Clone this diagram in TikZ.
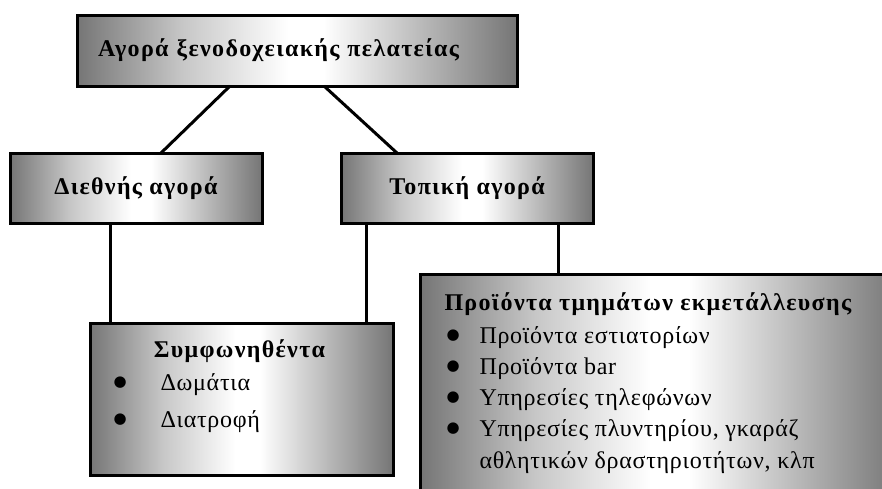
\documentclass[tikz,border=0pt]{standalone}
\usepackage{fontspec}
\setmainfont{Liberation Serif}
\newfontfamily\headfont[LetterSpace=5.5]{Liberation Serif}
\newfontfamily\itemfont[LetterSpace=3]{Liberation Serif}
\newfontfamily\markfont{DejaVu Sans}
\usetikzlibrary{calc,positioning,shadows}

\definecolor{paneldark}{gray}{0.46}
\definecolor{panelmid}{gray}{0.78}
\pgfdeclarehorizontalshading{panelshade}{100bp}{color(0bp)=(paneldark); color(25bp)=(paneldark); color(37bp)=(panelmid); color(49bp)=(white); color(53bp)=(white); color(75bp)=(paneldark); color(100bp)=(paneldark)}
\newcommand{\dotmark}{\raisebox{4pt}{\markfont\fontsize{15}{15}\selectfont ●}}

\begin{document}
\begin{tikzpicture}[x=1pt, y=-1pt, line width=3pt,
    panel/.style={draw, line width=3pt, shading=panelshade, inner sep=0pt, outer sep=0pt,
      drop shadow={shadow xshift=1.5pt, shadow yshift=-1.5pt, fill=black, opacity=1}},
    head/.style={font=\fontsize{24}{28}\headfont\bfseries},
    itemlist/.style={inner sep=0pt, anchor=base west}]
  \useasboundingbox (0,0) rectangle (882,488);
  \clip (0,0) rectangle (882,488);
  % boxes
  \node[panel, head, minimum width=440pt, minimum height=71pt, text width=398pt, align=left] (market) at (297,50.5) {Αγορά ξενοδοχειακής πελατείας};
  \node[panel, head, minimum width=252pt, minimum height=70pt] (intl) at (136,188) {Διεθνής αγορά};
  \node[panel, head, minimum width=252pt, minimum height=70pt] (local) at (467,188) {Τοπική αγορά};
  \node[panel, minimum width=303pt, minimum height=152pt] (agreed) at (241.5,399) {};
  \node[panel, minimum width=480pt, minimum height=240pt] (products) at (660,394) {};

  % box contents
  \node[head, inner sep=0pt, anchor=base] (agreedtitle) at ($(agreed.north)+(-2,34)$) {Συμφωνηθέντα};
  \node[itemlist, font=\fontsize{24}{37}\itemfont] (agreedlist) at ($(agreed.north west)+(22,67)$)
    {\begin{tabular}[t]{@{}p{47pt}@{}l@{}}\dotmark&Δωμάτια\\\dotmark&Διατροφή\end{tabular}};
  \node[head, inner sep=0pt, anchor=base west] (productstitle) at ($(products.north west)+(23,36)$) {Προϊόντα τμημάτων εκμετάλλευσης};
  \node[itemlist, font=\fontsize{24}{31.3}\itemfont] (productslist) at ($(products.north west)+(25,69)$)
    {\begin{tabular}[t]{@{}p{33pt}@{}l@{}}\dotmark&Προϊόντα εστιατορίων\\\dotmark&Προϊόντα bar\\\dotmark&Υπηρεσίες τηλεφώνων\\\dotmark&Υπηρεσίες πλυντηρίου, γκαράζ\\&αθλητικών δραστηριοτήτων, κλπ\end{tabular}};

  % connectors
  \draw ([xshift=-67pt]market.south) -- ([xshift=25pt]intl.north);
  \draw ([xshift=27pt]market.south) -- ([xshift=-70pt]local.north);
  \draw ([xshift=-26pt]intl.south) -- ([xshift=-26pt]intl.south |- agreed.north);
  \draw ([xshift=-101pt]local.south) -- ([xshift=-101pt]local.south |- agreed.north);
  \draw ([xshift=91pt]local.south) -- ([xshift=91pt]local.south |- products.north);
\end{tikzpicture}
\end{document}
